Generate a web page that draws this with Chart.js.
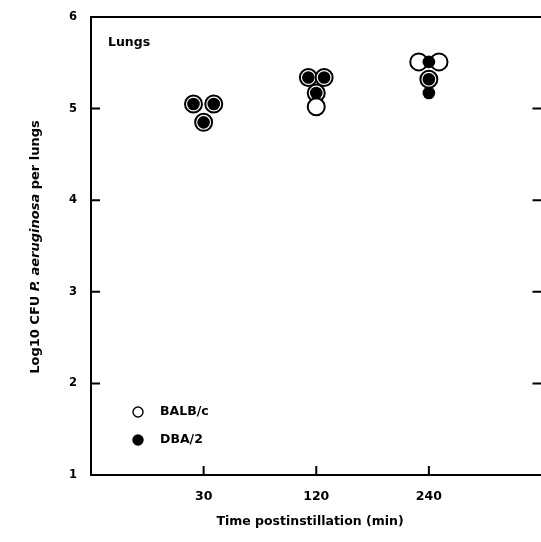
<!DOCTYPE html>
<html>
<head>
<meta charset="utf-8">
<script src="https://cdn.jsdelivr.net/npm/chart.js@4.4.0/dist/chart.umd.min.js"></script>
<style>
  html, body { margin: 0; padding: 0; background: #fff; overflow: hidden; }
  canvas { display: block; }
</style>
</head>
<body>
<canvas id="myChart" width="552" height="542"></canvas>
<script>
// time points (min) and the per-mouse values
var timeLabels = ['30', '120', '240'];
var balbValues = [[5.05, 5.05, 4.85], [5.34, 5.34, 5.17, 5.02], [5.51, 5.51, 5.32]];
var balbJitter = [[-0.09, 0.09, 0], [-0.07, 0.07, 0, 0], [-0.09, 0.09, 0]];
var dbaValues = [[5.05, 5.05, 4.85], [5.34, 5.34, 5.17], [5.51, 5.32, 5.17]];
var dbaJitter = [[-0.09, 0.09, 0], [-0.07, 0.07, 0], [0, 0, 0]];
var yTicks = [1, 2, 3, 4, 5, 6];

var FONT = '"DejaVu Sans", "Liberation Sans", sans-serif';

function toPoints(values, jitter){
  var pts = [];
  values.forEach(function(group, i){
    group.forEach(function(v, j){
      pts.push({ x: i + 1 + jitter[i][j], y: v });
    });
  });
  return pts;
}

var ctx = document.getElementById('myChart').getContext('2d');

var decorPlugin = {
  id: 'decor',
  afterDraw: function(chart){
    var c = chart.ctx;
    var a = chart.chartArea;
    var xs = chart.scales.x, ys = chart.scales.y;
    c.save();
    c.strokeStyle = '#000';
    c.fillStyle = '#000';
    c.lineWidth = 2;
    // top frame
    c.beginPath();
    c.moveTo(a.left, a.top);
    c.lineTo(a.right, a.top);
    c.stroke();
    // inward ticks
    c.beginPath();
    timeLabels.forEach(function(_, i){
      var px = xs.getPixelForValue(i + 1);
      c.moveTo(px, a.bottom);
      c.lineTo(px, a.bottom - 9);
    });
    yTicks.forEach(function(v){
      var py = ys.getPixelForValue(v);
      c.moveTo(a.left, py);
      c.lineTo(a.left + 9, py);
      c.moveTo(a.right, py);
      c.lineTo(a.right - 9, py);
    });
    c.stroke();

    // panel label
    c.font = 'bold 12.5px ' + FONT;
    c.textAlign = 'left';
    c.textBaseline = 'middle';
    c.fillText('Lungs', 108, 43);

    // legend
    var ds = chart.data.datasets;
    var legendY = [412, 440];
    [0, 1].forEach(function(k){
      var d = ds[k];
      c.beginPath();
      c.arc(138, legendY[k], 5, 0, Math.PI * 2);
      c.fillStyle = d.backgroundColor;
      c.fill();
      c.lineWidth = 1.4;
      c.strokeStyle = '#000';
      c.stroke();
      c.fillStyle = '#000';
      c.font = 'bold 12.5px ' + FONT;
      c.fillText(d.label, 160, legendY[k]);
    });

    // x title
    c.font = 'bold 12.5px ' + FONT;
    c.textAlign = 'center';
    c.fillText('Time postinstillation (min)', 310, 522);

    // y title with italic species name
    var parts = [
      ['Log10 CFU ', 'bold 13px ' + FONT],
      ['P. aeruginosa', 'italic bold 13px ' + FONT],
      [' per lungs', 'bold 13px ' + FONT]
    ];
    var total = 0;
    parts.forEach(function(p){ c.font = p[1]; total += c.measureText(p[0]).width; });
    c.translate(36, 247);
    c.rotate(-Math.PI / 2);
    c.textAlign = 'left';
    var xpos = -total / 2;
    parts.forEach(function(p){
      c.font = p[1];
      c.fillText(p[0], xpos, 0);
      xpos += c.measureText(p[0]).width;
    });
    c.restore();
  }
};

var chart = new Chart(ctx, {
  type: 'scatter',
  data: {
    datasets: [
      {
        label: 'BALB/c',
        data: toPoints(balbValues, balbJitter),
        backgroundColor: '#fff',
        borderColor: '#000',
        borderWidth: 2,
        pointRadius: 8.5,
        pointHoverRadius: 8.5,
        order: 2
      },
      {
        label: 'DBA/2',
        data: toPoints(dbaValues, dbaJitter),
        backgroundColor: '#000',
        borderColor: '#000',
        borderWidth: 0,
        pointRadius: 6.3,
        pointHoverRadius: 6.3,
        order: 1
      }
    ]
  },
  options: {
    responsive: false,
    animation: false,
    layout: { padding: { top: 17, left: 0, right: 5, bottom: 0 } },
    plugins: {
      legend: { display: false },
      tooltip: { enabled: false }
    },
    scales: {
      x: {
        type: 'linear',
        min: 0,
        max: 4,
        afterBuildTicks: function(scale){
          scale.ticks = timeLabels.map(function(_, i){ return { value: i + 1 }; });
        },
        afterFit: function(scale){ scale.height = 67; },
        grid: { display: false },
        border: { display: true, color: '#000', width: 2 },
        ticks: {
          color: '#000',
          font: { family: FONT, size: 12.5, weight: 'bold' },
          padding: 6,
          maxRotation: 0,
          callback: function(v){ return timeLabels[v - 1]; }
        }
      },
      y: {
        min: 1,
        max: 6,
        afterBuildTicks: function(scale){
          scale.ticks = yTicks.map(function(v){ return { value: v }; });
        },
        afterFit: function(scale){ scale.width = 91; },
        grid: { display: false },
        border: { display: true, color: '#000', width: 2 },
        ticks: {
          color: '#000',
          font: { family: FONT, size: 11.5, weight: 'bold' },
          padding: 6
        }
      }
    }
  },
  plugins: [decorPlugin]
});
</script>
</body>
</html>
